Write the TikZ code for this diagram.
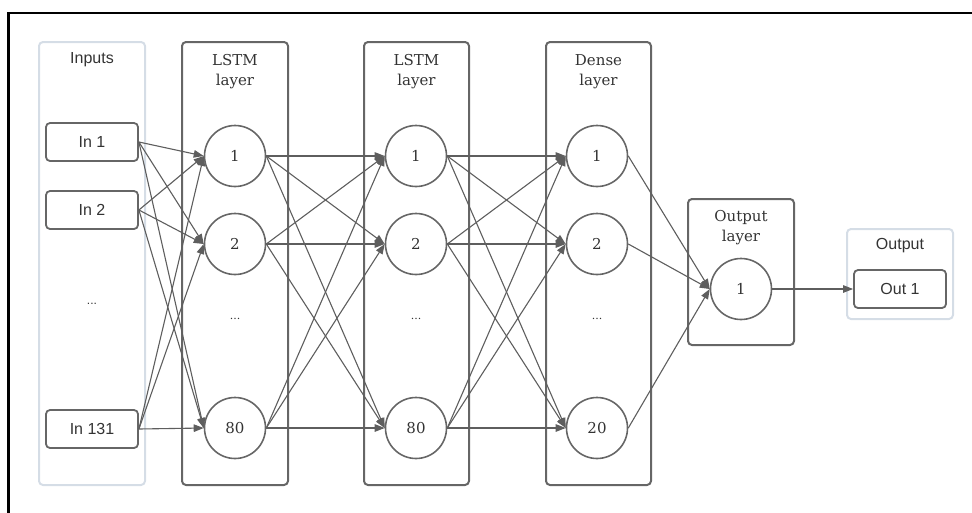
\documentclass[tikz,border=0pt]{standalone}
\usepackage{fontspec}
\setmainfont{DejaVu Serif}
\setsansfont{Liberation Sans}
\usetikzlibrary{arrows.meta}
\definecolor{ln}{HTML}{5E5E5E}
\definecolor{bx}{HTML}{666666}
\definecolor{lt}{HTML}{D5DDE6}
\definecolor{tx}{HTML}{333333}
\begin{document}
\begin{tikzpicture}[x=1pt,y=-1pt,
  layer/.style={draw=bx, line width=2pt, rounded corners=4pt, minimum width=106pt, minimum height=443pt, inner sep=0pt},
  lightbox/.style={draw=lt, line width=2pt, rounded corners=4pt, inner sep=0pt},
  inbox/.style={draw=bx, line width=1.8pt, rounded corners=4pt, minimum width=92pt, minimum height=38pt, inner sep=0pt, text=tx, font=\sffamily\fontsize{16}{19}\selectfont},
  neuron/.style={circle, draw=bx, line width=1.6pt, minimum size=61pt, inner sep=0pt, text=tx, font=\fontsize{15}{19}\selectfont},
  stitle/.style={text=tx, font=\sffamily\fontsize{16}{19}\selectfont, inner sep=0pt},
  ltitle/.style={text=tx, font=\fontsize{15}{19.5}\selectfont, align=center, inner sep=0pt},
  sdots/.style={text=tx, font=\sffamily\fontsize{12}{13}\selectfont, inner sep=0pt},
  ldots/.style={text=tx, font=\fontsize{11}{13}\selectfont, inner sep=0pt},
  arr/.style={draw=ln, line width=1.1pt, -{Triangle[length=10pt,width=7.5pt]}}
]
\useasboundingbox (0,0) rectangle (972,512);
% outer frame (top and left edges)
\draw[line width=2.6pt, black] (8.7,513) -- (8.7,13) -- (973,13);

% boxes
\node[lightbox, minimum width=106pt, minimum height=443pt] (inputs) at (92,263.5) {};
\node[layer] (l1) at (235,263.5) {};
\node[layer, minimum width=105pt] (l2) at (416.5,263.5) {};
\node[layer, minimum width=105pt] (dn) at (598.5,263.5) {};
\node[layer, minimum height=146pt] (ol) at (741,272) {};
\node[lightbox, minimum width=106pt, minimum height=90pt] (outbox) at (900,274) {};

% titles
\node[stitle] (tin) at (92,60) {Inputs};
\node[ltitle] (tl1) at (235,71.5) {LSTM\\layer};
\node[ltitle] (tl2) at (416.5,71.5) {LSTM\\layer};
\node[ltitle] (tdn) at (598.5,71.5) {Dense\\layer};
\node[ltitle] (tol) at (741,227.5) {Output\\layer};
\node[stitle] (tout) at (900,246) {Output};

% inputs
\node[inbox] (i1) at (92,142) {In 1};
\node[inbox] (i2) at (92,210) {In 2};
\node[sdots] (idots) at (92,304) {...};
\node[inbox] (i3) at (92,429) {In 131};

% LSTM 1
\node[neuron] (a1) at (235,156) {1};
\node[neuron] (a2) at (235,244) {2};
\node[ldots] (adots) at (235,319) {...};
\node[neuron] (a3) at (235,428) {80};

% LSTM 2
\node[neuron] (b1) at (416,156) {1};
\node[neuron] (b2) at (416,244) {2};
\node[ldots] (bdots) at (416,319) {...};
\node[neuron] (b3) at (416,428) {80};

% Dense
\node[neuron] (c1) at (597,156) {1};
\node[neuron] (c2) at (597,244) {2};
\node[ldots] (cdots) at (597,319) {...};
\node[neuron] (c3) at (597,428) {20};

% Output layer
\node[neuron] (d1) at (741,289) {1};

% Output
\node[inbox] (o1) at (900,289) {Out 1};

% connections
\foreach \s in {i1,i2,i3}{\foreach \t in {a1,a2,a3}{\draw[arr] (\s.east) -- (\t.west);}}
\foreach \s in {a1,a2,a3}{\foreach \t in {b1,b2,b3}{\draw[arr] (\s.east) -- (\t.west);}}
\foreach \s in {b1,b2,b3}{\foreach \t in {c1,c2,c3}{\draw[arr] (\s.east) -- (\t.west);}}
\foreach \s in {c1,c2,c3}{\draw[arr] (\s.east) -- (d1.west);}
\draw[arr] (d1.east) -- (o1.west);
\end{tikzpicture}
\end{document}
